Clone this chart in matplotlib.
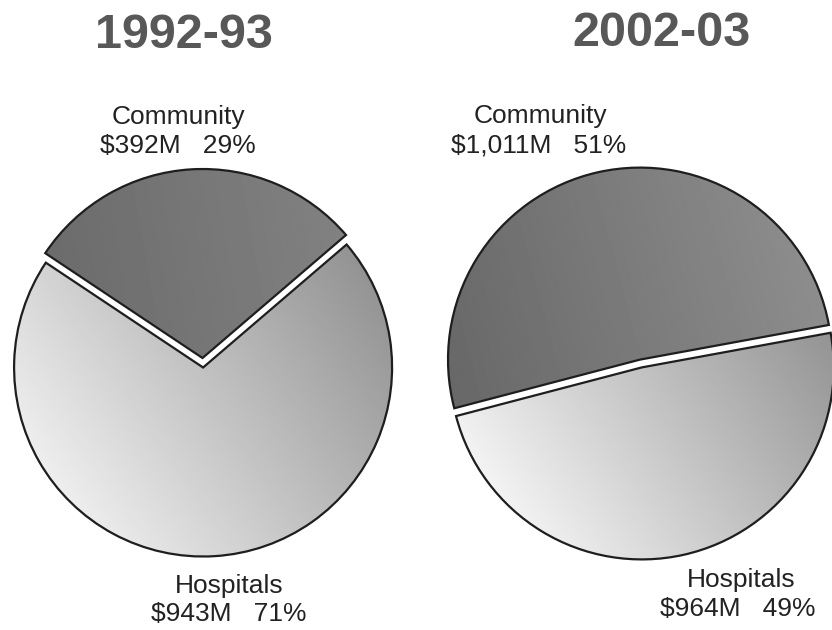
import numpy as np
import matplotlib.pyplot as plt

# health spending split, $ millions
segments = ['Community', 'Hospitals']
years = ['1992-93', '2002-03']
spend_9293 = [392, 943]
spend_0203 = [1011, 964]
pct_9293 = [29, 71]
pct_0203 = [51, 49]

W, H = 832, 630
fig = plt.figure(figsize=(W / 100, H / 100), dpi=100)
ax = fig.add_axes([0, 0, 1, 1])
ax.set_axis_off()


def shade(wedge, cx, cy, r, angle, lo, hi):
    # linear grey ramp across the pie, clipped to one wedge
    n = 300
    xs = np.linspace(-1, 1, n)
    gx, gy = np.meshgrid(xs, xs[::-1])
    a = np.deg2rad(angle)
    t = (gx * np.cos(a) + gy * np.sin(a) + 1) / 2
    t = np.clip(t, 0, 1)
    g = lo + (hi - lo) * t
    im = ax.imshow(g, cmap='gray', vmin=0, vmax=1, interpolation='bilinear',
                   extent=(cx - r * 1.1, cx + r * 1.1, cy - r * 1.1, cy + r * 1.1),
                   zorder=1)
    im.set_clip_path(wedge)


def draw_pie(values, center, r, start, explode, ramps):
    # explode is in data units here (pixels)
    wedges, _ = ax.pie(values, center=center, radius=r, startangle=start,
                       explode=explode, counterclock=True,
                       wedgeprops=dict(facecolor='none', edgecolor='#1e1e1e',
                                       linewidth=1.6, zorder=2))
    for w, (ang, lo, hi) in zip(wedges, ramps):
        shade(w, center[0], center[1], r, ang, lo, hi)


# 1992-93
draw_pie(spend_9293, (203, 264), 189, 40.6, [8, 1.5],
         [(10, 0.40, 0.52), (215, 0.56, 0.95)])
# 2002-03
draw_pie(spend_0203, (641, 266), 192, 10.4, [4.5, 3.5],
         [(15, 0.40, 0.56), (215, 0.54, 0.97)])

title_kw = dict(ha='center', va='center', fontsize=35, fontweight='bold',
                color='#585858', family='Liberation Sans')
ax.text(184, H - 36, years[0], **title_kw)
ax.text(662, H - 34, years[1], **title_kw)

lab_kw = dict(ha='center', va='baseline', fontsize=19, color='#222222',
              family='Liberation Sans')


def money(v):
    return f'${v:,}M'


# community labels above, hospital labels below
ax.text(178, H - 124, segments[0], **lab_kw)
ax.text(178, H - 153, f'{money(spend_9293[0])}   {pct_9293[0]}%', **lab_kw)
ax.text(540, H - 123, segments[0], **lab_kw)
ax.text(539, H - 152, f'{money(spend_0203[0])}   {pct_0203[0]}%', **lab_kw)

ax.text(229, H - 593, segments[1], **lab_kw)
ax.text(229, H - 621, f'{money(spend_9293[1])}   {pct_9293[1]}%', **lab_kw)
ax.text(741, H - 587, segments[1], **lab_kw)
ax.text(738, H - 616, f'{money(spend_0203[1])}   {pct_0203[1]}%', **lab_kw)

ax.set_xlim(0, W)
ax.set_ylim(0, H)
ax.set_aspect('auto')

fig.savefig('out.png', dpi=100, facecolor='white')
